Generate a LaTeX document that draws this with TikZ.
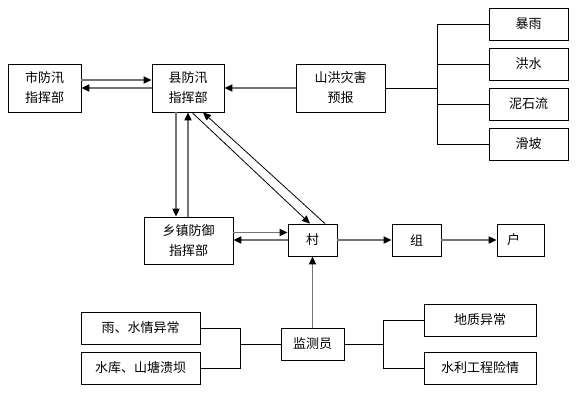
\documentclass[tikz,border=0pt]{standalone}
\usepackage{fontspec}
\usepackage{xcolor}
\usepackage{tikz}
\usetikzlibrary{positioning,calc,arrows.meta}
\newfontfamily\cjk{Noto Sans CJK SC}

\begin{document}
\begin{tikzpicture}[x=1pt,y=-1pt,
    box/.style={draw,line width=0.8pt,inner sep=0pt,align=center,font=\cjk\fontsize{13}{20}\selectfont},
    arr/.style={draw=gray!90!black,line width=1.8pt,-{Triangle[color=black,length=8pt,width=7pt]}},
    thin arr/.style={line width=0.8pt,-{Triangle[length=8pt,width=7pt]}},
    tree/.style={line width=0.8pt}]
    \useasboundingbox (0,0) rectangle (576,408);
    % Headquarters
    \node[box,minimum width=73pt,minimum height=48pt] (shi) at (44.5,88) {市防汛\\指挥部};
    \node[box,minimum width=72pt,minimum height=48pt] (xian) at (188,88) {县防汛\\指挥部};
    \node[box,minimum width=89pt,minimum height=48pt] (yubao) at (340.5,88) {山洪灾害\\预报};
    \node[box,minimum width=89pt,minimum height=47pt] (xiangzhen) at (188.5,240.5) {乡镇防御\\指挥部};
    % Hazards
    \node[box,minimum width=79pt,minimum height=32pt] (baoyu) at (528.5,24) {暴雨};
    \node[box,minimum width=79pt,minimum height=32pt] (hongshui) at (528.5,64) {洪水};
    \node[box,minimum width=79pt,minimum height=32pt] (nishiliu) at (528.5,104) {泥石流};
    \node[box,minimum width=79pt,minimum height=32pt] (huapo) at (528.5,144) {滑坡};
    % Village chain
    \node[box,minimum width=49pt,minimum height=32pt] (cun) at (312.5,240) {村};
    \node[box,minimum width=49pt,minimum height=32pt] (zu) at (416.5,240) {组};
    \node[box,minimum width=47pt,minimum height=32pt] (hu) at (520.5,240) {\hspace{-14pt}户};
    % Monitoring
    \node[box,minimum width=63pt,minimum height=32pt] (jiance) at (312.5,344) {监测员};
    \node[box,minimum width=119pt,minimum height=32pt] (yu) at (140.5,328) {雨、水情异常};
    \node[box,minimum width=119pt,minimum height=32pt] (shuiku) at (140.5,368) {水库、山塘溃坝};
    \node[box,minimum width=112pt,minimum height=32pt] (dizhi) at (480,320) {地质异常};
    \node[box,minimum width=112pt,minimum height=32pt] (shuili) at (480,368) {水利工程险情};
    % City <-> county
    \draw[arr] ([yshift=8pt]shi.east) -- ([yshift=8pt]xian.west);
    \draw[arr] (xian.west) -- (shi.east);
    \draw[arr] (yubao.west) -- (xian.east);
    % Forecast tree
    \draw[tree] (yubao.east) -- ++(52,0) coordinate (fork);
    \draw[tree] (fork |- baoyu.west) -- (fork |- huapo.west);
    \foreach \n in {baoyu,hongshui,nishiliu,huapo}
        \draw[tree] (fork |- \n.west) -- (\n.west);
    % County <-> township
    \draw[arr] ([xshift=-12pt]xian.south) -- ([xshift=-12pt]xian.south |- xiangzhen.north);
    \draw[arr] (xian.south |- xiangzhen.north) -- (xian.south);
    % County <-> village
    \draw[thin arr] ([xshift=4pt]xian.south) -- ([xshift=-2.5pt]cun.north);
    \draw[thin arr] ([xshift=12.5pt]cun.north) -- ([xshift=15pt]xian.south);
    % Township <-> village
    \draw[arr] ([yshift=8pt]xiangzhen.east) -- ([yshift=8pt]xiangzhen.east -| cun.west);
    \draw[arr] (cun.west) -- (cun.west -| xiangzhen.east);
    \draw[arr] (cun.east) -- (zu.west);
    \draw[arr] (zu.east) -- (hu.west);
    \draw[arr] (jiance.north) -- (cun.south);
    % Monitoring trees
    \draw[tree] (yu.east) -- ++(40,0) |- (shuiku.east);
    \draw[tree] (jiance.west) -- ++(-41,0);
    \draw[tree] (jiance.east) -- ++(40,0);
    \draw[tree] (dizhi.west) -- ++(-40,0) |- (shuili.west);
\end{tikzpicture}
\end{document}
